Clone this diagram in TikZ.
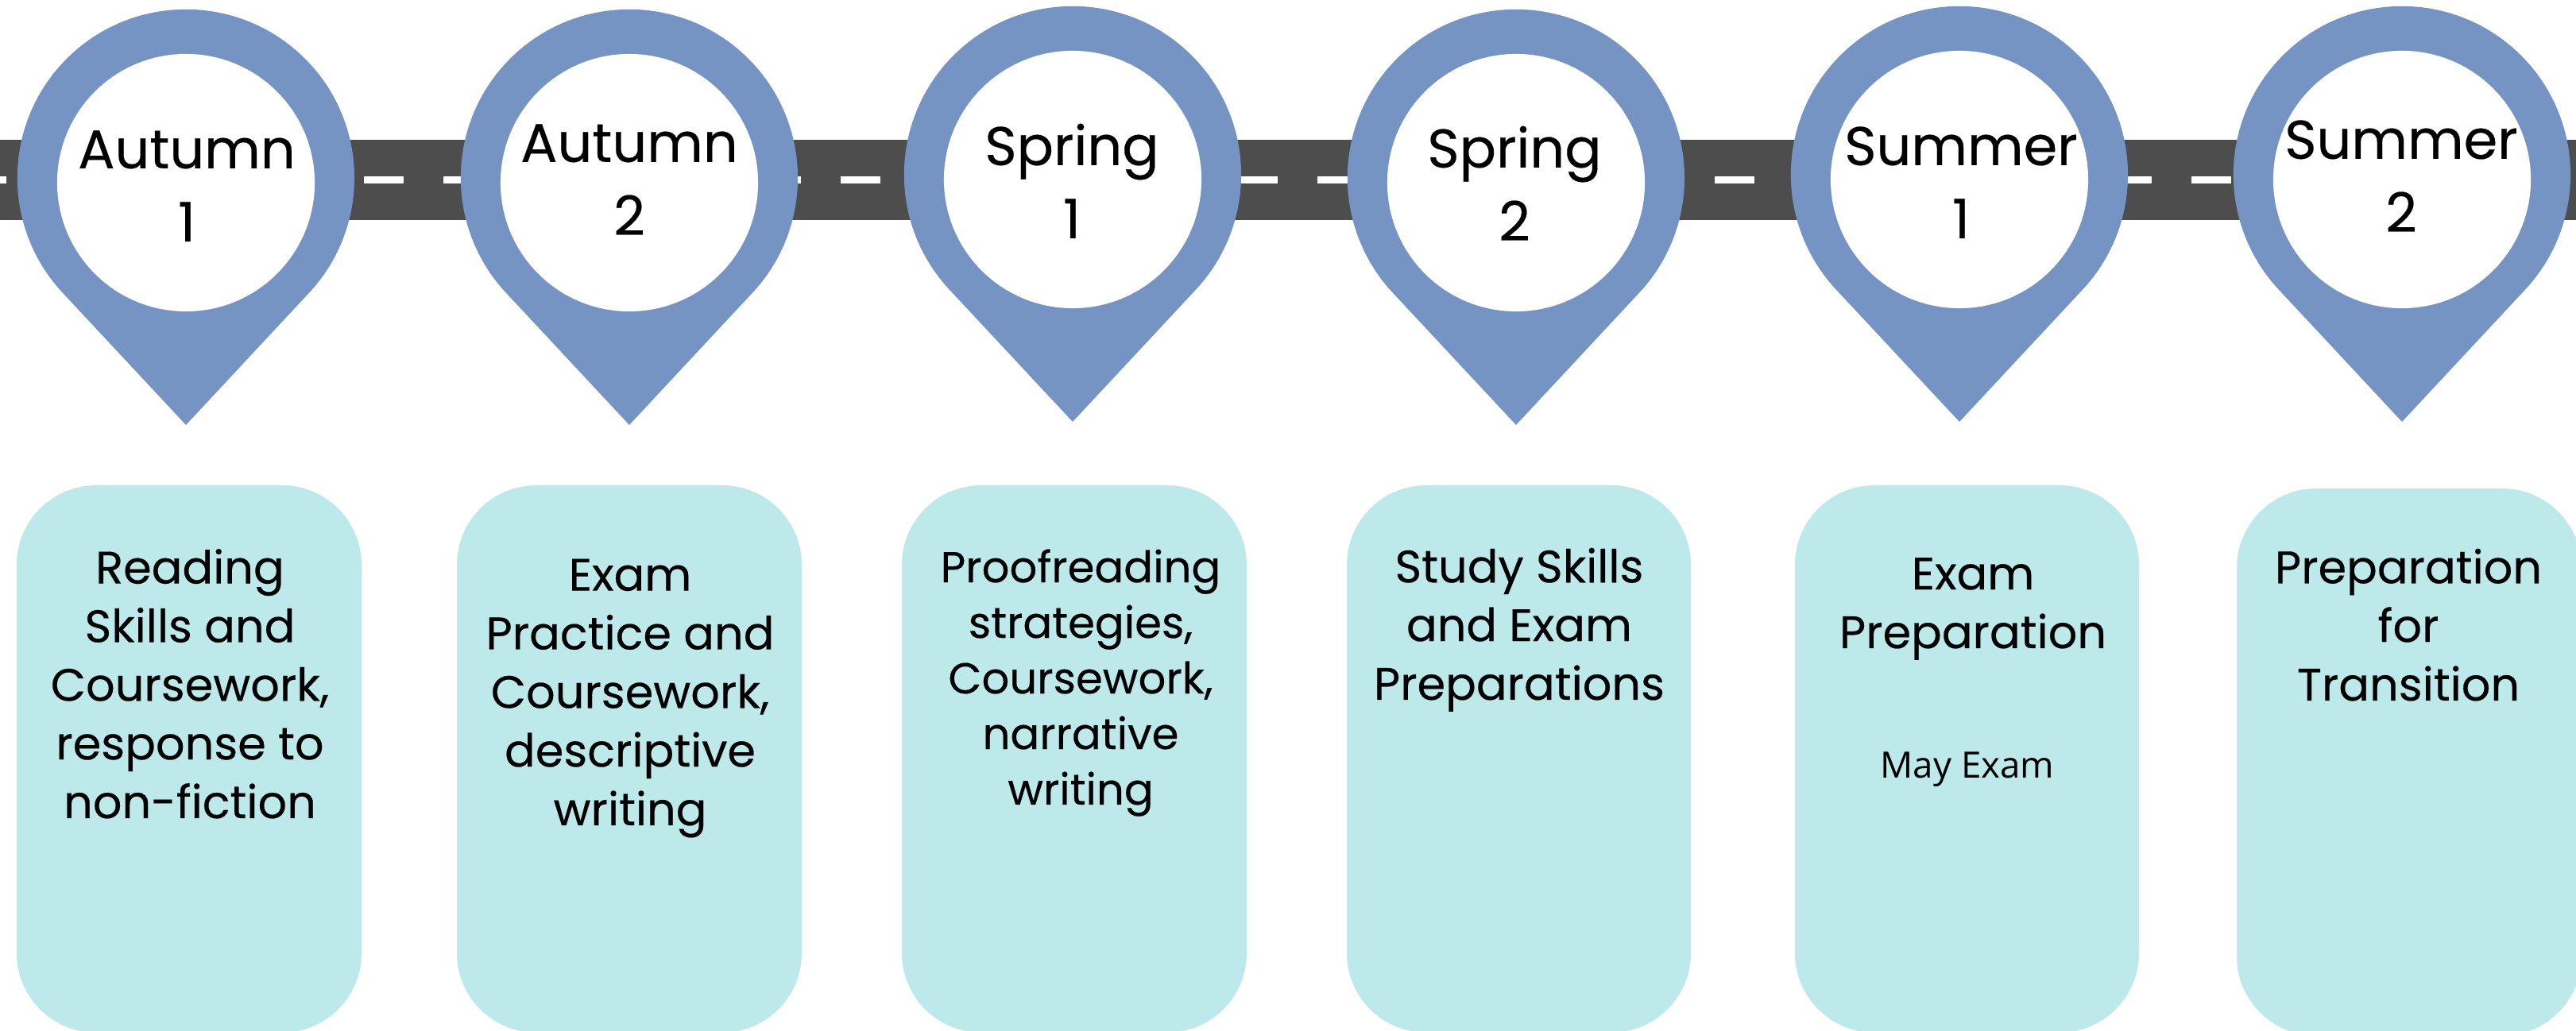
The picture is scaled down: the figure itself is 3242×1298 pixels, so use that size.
\documentclass[tikz,border=0pt]{standalone}
\usepackage{fontspec}
\setmainfont[FakeBold=0.3]{Poppins}
\newfontfamily\mayfont{Open Sans}
\definecolor{pinblue}{RGB}{117,147,195}
\definecolor{boxteal}{RGB}{190,233,234}
\definecolor{roadgrey}{RGB}{77,77,77}
\tikzset{
  road/.style={fill=roadgrey,draw=none},
  lane/.style={fill=white,draw=none},
  pinbody/.style={fill=pinblue,draw=none},
  pinhole/.style={fill=white,draw=none,circle,inner sep=0pt,minimum size=3.24cm},
  cardbox/.style={fill=boxteal,draw=none,rounded corners=1cm},
  pinlabel/.style={anchor=base,align=center,inner sep=0pt,text=black,font=\fontsize{19.5}{26.2}\selectfont},
  cardlabel/.style={anchor=base,align=center,inner sep=0pt,text=black,font=\fontsize{16.3}{21}\selectfont},
  cardlabeltight/.style={cardlabel,font=\fontsize{15.5}{19.9}\selectfont},
  notelabel/.style={anchor=base,inner sep=0pt,text=black,font=\mayfont\fontsize{13}{16}\selectfont},
}
\begin{document}
\begin{tikzpicture}[x=0.01cm,y=0.01cm]
\path[use as bounding box,clip] (0,0) rectangle (3242,-1298);
\fill[white] (0,0) rectangle (3242,-1298);
% road
\path[road] (0,-176) rectangle (3242,-277);
\foreach \k in {0,...,32}{
  \path[lane] ({-42+100*\k},-222) rectangle ({8+100*\k},-231);
}
% cards
\path[cardbox] (21,-611) rectangle (455,-1300);
\path[cardbox] (575,-611) rectangle (1009,-1300);
\path[cardbox] (1135,-611) rectangle (1569,-1300);
\path[cardbox] (1695,-611) rectangle (2128,-1300);
\path[cardbox] (2259,-611) rectangle (2692,-1300);
\path[cardbox] (2815,-615) rectangle (3249,-1304);
% pins
\foreach \cx/\t/\n in {234/12/a,792/12/b,1350/8/c,1908/12/d,2466/8/e,3023/8/f}{
  \path[pinbody] ({\cx+154.3},{-(\t+357.4)})
     arc[start angle=-43.3,end angle=223.3,radius=2.12cm]
     -- ({\cx},{-(\t+523)}) -- cycle;
  \node[pinhole] (hole\n) at ({\cx},{-(\t+218)}) {};
}
% pin labels
\node[pinlabel] (pa) at (235,-304) {Autumn\\1};
\node[pinlabel] (pb) at (792,-296) {Autumn\\2};
\node[pinlabel] (pc) at (1349,-300) {Spring\\1};
\node[pinlabel] (pd) at (1906,-303) {Spring\\2};
\node[pinlabel] (pe) at (2468,-300) {Summer\\1};
\node[pinlabel] (pf) at (3022,-292) {Summer\\2};
% card labels
\node[cardlabel] (ca) at (239,-1030) {Reading\hspace{3.4pt}\\Skills and\\Coursework,\\response to\\non-fiction};
\node[cardlabel] (cb) at (793,-1039) {Exam\hspace{5pt}\\Practice and\\Coursework,\\descriptive\\writing};
\node[cardlabeltight] (cc) at (1360,-1013) {Proofreading\\strategies,\\Coursework,\\narrative\\writing};
\node[cardlabel] (cd) at (1912,-881) {Study Skills\\and Exam\\Preparations};
\node[cardlabel] (ce) at (2483,-816) {Exam\\Preparation};
\node[notelabel] (cn) at (2476,-980) {May Exam};
\node[cardlabel] (cf) at (3031,-882) {Preparation\\for\\Transition};
\end{tikzpicture}
\end{document}
